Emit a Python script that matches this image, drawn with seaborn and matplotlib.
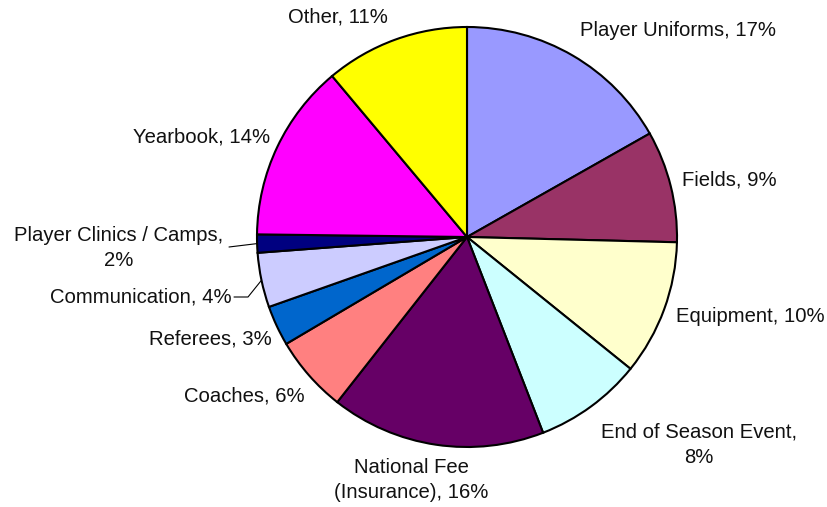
import matplotlib
matplotlib.use("Agg")
import matplotlib.pyplot as plt
import seaborn as sns
import numpy as np

sns.set_theme(style="white")
plt.rcParams['font.family'] = ['Liberation Sans', 'DejaVu Sans']

# Budget share by category (percent)
categories = ['Player Uniforms', 'Fields', 'Equipment', 'End of Season Event',
              'National Fee (Insurance)', 'Coaches', 'Referees', 'Communication',
              'Player Clinics / Camps', 'Yearbook', 'Other']
shares = [16.8, 8.6, 10.4, 8.3, 16.5, 5.9, 3.1, 4.2, 1.4, 13.7, 11.1]
shown_pct = [17, 9, 10, 8, 16, 6, 3, 4, 2, 14, 11]
colors = ['#9999FF', '#993366', '#FFFFCC', '#CCFFFF', '#660066', '#FF8080',
          '#0066CC', '#CCCCFF', '#000080', '#FF00FF', '#FFFF00']

# label text layout (how the category name wraps)
label_text = [
    f'{categories[0]}, {shown_pct[0]}%',
    f'{categories[1]}, {shown_pct[1]}%',
    f'{categories[2]}, {shown_pct[2]}%',
    f'{categories[3]},\n{shown_pct[3]}%',
    f'National Fee\n(Insurance), {shown_pct[4]}%',
    f'{categories[5]}, {shown_pct[5]}%',
    f'{categories[6]}, {shown_pct[6]}%',
    f'{categories[7]}, {shown_pct[7]}%',
    f'{categories[8]},\n{shown_pct[8]}%',
    f'{categories[9]}, {shown_pct[9]}%',
    f'{categories[10]}, {shown_pct[10]}%',
]
# label anchor (pixels from top-left) and horizontal alignment
label_pos = [(580, 31, 'left'), (682, 180, 'left'), (676, 316, 'left'),
             (699, 445, 'center'), (411, 480, 'center'), (305, 396, 'right'),
             (272, 339, 'right'), (232, 297, 'right'), (119, 248, 'center'),
             (270, 137, 'right'), (338, 17, 'center')]

W, H = 828, 507
fig = plt.figure(figsize=(W / 100, H / 100), dpi=100)
ax = fig.add_axes([0, 0, 1, 1])

cx, cy, r = 467, H - 237, 210
wedges, _ = ax.pie(shares, colors=colors, startangle=90, counterclock=False,
                   center=(cx, cy), radius=r, frame=True,
                   wedgeprops=dict(edgecolor='black', linewidth=1.5))
ax.set_xlim(0, W)
ax.set_ylim(0, H)
ax.axis('off')

for txt, (x, y, ha) in zip(label_text, label_pos):
    ax.text(x, H - y, txt, ha=ha, va='center', multialignment='center',
            fontsize=14.6, color='#111111', linespacing=1.4)

# leader lines for the two thin slices
def edge_point(w):
    ang = np.deg2rad((w.theta1 + w.theta2) / 2)
    return cx + r * np.cos(ang), cy + r * np.sin(ang)

ex, ey = edge_point(wedges[7])
ax.plot([234, 248, ex], [H - 297, H - 297, ey], color='black', lw=0.8)
ex, ey = edge_point(wedges[8])
ax.plot([229, ex], [H - 247, ey], color='black', lw=0.8)

fig.savefig('out.png', dpi=100)
